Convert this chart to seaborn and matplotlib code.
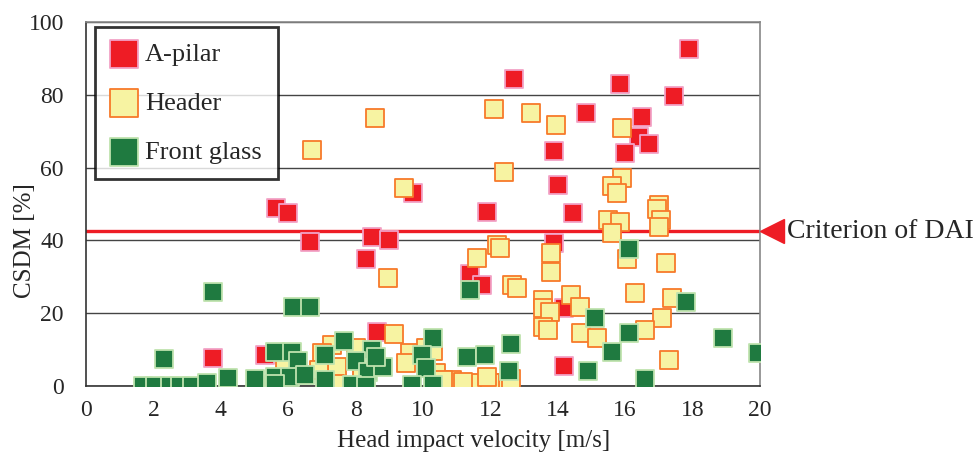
import matplotlib
matplotlib.use("Agg")
import matplotlib.pyplot as plt
import seaborn as sns
import pandas as pd

# Data (x = head impact velocity [m/s], y = CSDM [%])
apilar_x = [17.9, 12.7, 15.85, 17.45, 14.85, 16.5, 16.4, 16.7, 13.9, 16.0, 14.0, 9.7, 14.45, 11.9,
            5.65, 6.0, 6.65, 8.5, 9.0, 8.3, 13.9, 11.4, 11.75, 14.2, 8.64, 3.77, 5.3, 14.2]
apilar_y = [92.6, 84.3, 83.0, 79.7, 75.0, 73.8, 68.5, 66.6, 64.6, 64.0, 55.2, 53.0, 47.5, 47.8,
            48.8, 47.4, 39.6, 41.0, 40.0, 34.8, 39.2, 30.8, 27.8, 21.4, 14.8, 7.7, 8.4, 5.6]

header_x = [8.58, 6.7, 12.1, 13.2, 13.95, 15.9, 12.4, 9.44, 15.9, 15.6, 15.75, 17.0, 16.95, 17.05,
            15.5, 15.85, 15.6, 17.0, 11.6, 12.2, 12.3, 13.8, 16.05, 17.2, 13.8, 8.97, 12.65, 12.8,
            16.3, 14.4, 17.4, 13.55, 14.66, 13.55, 13.77, 17.1, 13.55, 13.7, 16.6, 14.7, 15.17, 17.3,
            9.14, 12.1, 11.46, 12.0, 10.86, 11.2, 9.6, 9.5, 10.1, 10.4, 10.6, 7.3, 7.45, 7.4, 8.0,
            8.2, 7.0, 6.9, 5.9, 11.9, 12.6, 10.3]
header_y = [73.6, 64.8, 76.0, 75.0, 71.8, 71.0, 58.8, 54.3, 57.0, 55.0, 53.0, 49.7, 48.5, 45.6,
            45.6, 45.0, 42.0, 43.7, 35.2, 38.7, 38.0, 36.5, 35.0, 33.8, 31.3, 29.6, 27.7, 26.9,
            25.5, 25.0, 24.2, 23.6, 21.7, 21.3, 20.3, 18.6, 16.2, 15.4, 15.4, 14.5, 13.2, 7.1,
            14.3, 0.8, 0.8, 0.8, 1.6, 1.2, 9.0, 6.3, 10.5, 3.5, 1.5, 11.2, 5.2, 0.5, 10.5,
            2.0, 9.0, 4.5, 5.0, 2.5, 2.0, 9.5]

glass_x = [1.7, 2.05, 2.5, 2.8, 3.15, 3.6, 4.2, 2.3, 3.77, 6.15, 6.65, 5.05, 5.0, 5.6, 6.1, 6.3,
           5.6, 6.05, 6.5, 5.6, 7.1, 7.1, 7.66, 8.5, 8.0, 8.37, 8.8, 7.9, 8.3, 10.3, 9.97, 10.1,
           9.67, 10.3, 11.3, 11.84, 11.4, 12.6, 12.55, 15.1, 16.1, 15.6, 14.9, 16.6, 16.1, 17.8,
           18.9, 19.95, 8.6]
glass_y = [0.1, 0.1, 0.1, 0.1, 0.1, 0.8, 2.2, 7.3, 25.8, 21.7, 21.7, 0.3, 2.0, 9.3, 9.3, 6.8,
           2.5, 2.5, 3.0, 0.5, 8.5, 1.6, 12.4, 9.9, 6.9, 3.8, 5.2, 0.3, 0.0, 13.2, 8.5, 4.9,
           0.2, 0.3, 8.0, 8.5, 26.4, 11.5, 4.0, 18.7, 14.6, 9.4, 4.0, 1.9, 37.6, 23.0,
           13.2, 9.0, 8.0]

criterion = 42.5

df = pd.concat([
    pd.DataFrame({"v": apilar_x, "csdm": apilar_y, "part": "A-pilar"}),
    pd.DataFrame({"v": header_x, "csdm": header_y, "part": "Header"}),
    pd.DataFrame({"v": glass_x, "csdm": glass_y, "part": "Front glass"}),
])

styles = {
    "A-pilar": ("#EE1C25", "#F2A2C6"),
    "Header": ("#F7F3A2", "#F77A2A"),
    "Front glass": ("#1F7A40", "#BFE3AE"),
}

sns.set_style("white")
plt.rcParams["font.family"] = ["Liberation Serif", "DejaVu Serif"]

fig = plt.figure(figsize=(9.78, 4.54), dpi=100)
ax = fig.add_axes([0.088, 0.150, 0.689, 0.8015])

for part, (fc, ec) in styles.items():
    sub = df[df["part"] == part]
    sns.scatterplot(data=sub, x="v", y="csdm", marker="s", s=175, color=fc,
                    edgecolor=ec, linewidth=1.3, label=part, ax=ax, zorder=3)

ax.set_xlim(0, 20)
ax.set_ylim(0, 100)
ax.set_xticks(range(0, 21, 2))
ax.set_yticks(range(0, 101, 20))
ax.yaxis.grid(True, color="#444444", linewidth=1.0)
ax.set_axisbelow(True)

for side in ["left", "bottom"]:
    ax.spines[side].set_color("#333333")
    ax.spines[side].set_linewidth(1.2)
for side in ["top", "right"]:
    ax.spines[side].set_color("#888888")
    ax.spines[side].set_linewidth(1.2)

ax.tick_params(axis="x", direction="in", length=5, width=1, color="#555555",
               labelsize=17, pad=10)
ax.tick_params(axis="y", length=0, labelsize=17, pad=16)

ax.set_xlabel("Head impact velocity [m/s]", fontsize=18)
ax.set_ylabel("CSDM [%]", fontsize=18)
ax.xaxis.set_label_coords(0.575, -0.12)
ax.yaxis.set_label_coords(-0.075, 0.40)

# DAI criterion line with arrow head and label outside the axes
ax.axhline(criterion, color="#EE1C25", linewidth=2.4, zorder=2)
ax.plot([20.35], [criterion], marker="<", markersize=17, color="#EE1C25",
        clip_on=False, zorder=5)
ax.text(20.8, criterion, "Criterion of DAI", fontsize=20, va="center", ha="left",
        clip_on=False)

leg = ax.legend(loc="upper left", bbox_to_anchor=(0.013, 0.986), borderaxespad=0,
                fontsize=19, markerscale=1.5, frameon=True, fancybox=False,
                edgecolor="black", labelspacing=0.95, handletextpad=0.3,
                borderpad=0.6, handlelength=1.0)
leg.get_frame().set_linewidth(2.0)
leg.set_zorder(10)

fig.savefig("out.png", dpi=100)
